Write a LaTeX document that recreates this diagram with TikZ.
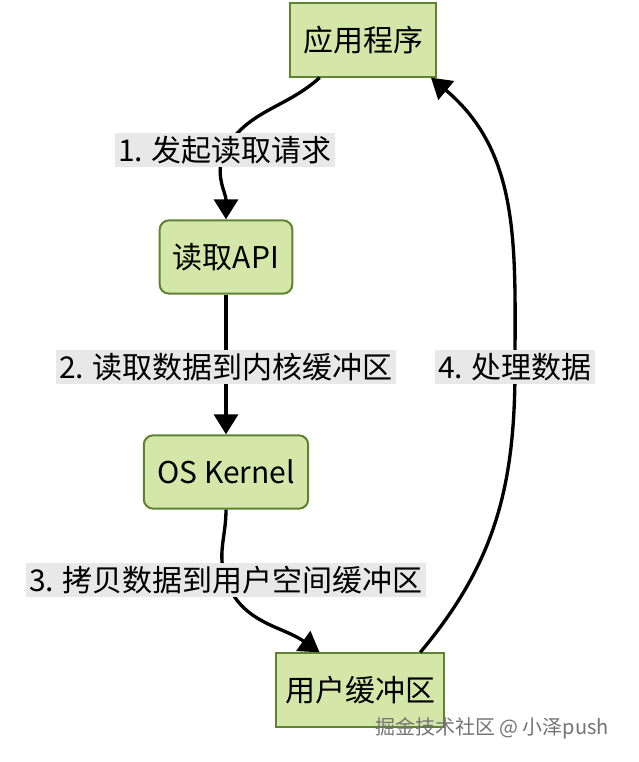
\documentclass[tikz,border=0pt]{standalone}
\usepackage{fontspec}
\setmainfont{Noto Sans CJK SC}
\usetikzlibrary{arrows.meta}
\definecolor{boxfill}{HTML}{D4E7A8}
\definecolor{boxline}{HTML}{5F8233}
\tikzset{
  box/.style={draw=boxline,fill=boxfill,line width=1.5pt,minimum height=55pt,inner xsep=10pt,font=\fontsize{22.5}{27}\selectfont},
  rbox/.style={box,rounded corners=7pt},
  lbl/.style={fill=black!9,inner sep=2pt,font=\fontsize{22.5}{27}\selectfont},
  flow/.style={line width=2.5pt,-{Triangle[width=18pt,length=15pt]}}
}
\begin{document}
\begin{tikzpicture}[x=0.75pt,y=0.75pt]
\useasboundingbox (0,0) rectangle (638,-762);
\node[box] (app) at (363,-40) {应用程序};
\node[rbox] (api) at (226,-257) {读取API};
\node[rbox] (os) at (226,-472) {OS Kernel};
\node[box,inner xsep=7pt] (user) at (360,-690) {用户缓冲区};
\coordinate (c1) at (225,-150);
\coordinate (c2) at (226,-367);
\coordinate (c3) at (226,-580);
\coordinate (c4) at (515,-367);
\draw[flow] (app.221) to[out=222,in=60] (c1) to[out=245,in=90] (api.north);
\draw[flow] (api) -- (os);
\draw[flow] (os.south) to[out=-90,in=110] (c3) to[out=-70,in=145] (user.137);
\draw[flow] (user.32) to[out=50,in=-90] (c4) to[out=90,in=-40] (app.-29);
\node[lbl] (l1) at (c1) {1. 发起读取请求};
\node[lbl] (l2) at (c2) {2. 读取数据到内核缓冲区};
\node[lbl] (l3) at (c3) {3. 拷贝数据到用户空间缓冲区};
\node[lbl] (l4) at (c4) {4. 处理数据};
\node[text=black!55,font=\fontsize{15}{18}\selectfont] (mark) at (492,-728) {掘金技术社区 @ 小泽push};
\end{tikzpicture}
\end{document}
